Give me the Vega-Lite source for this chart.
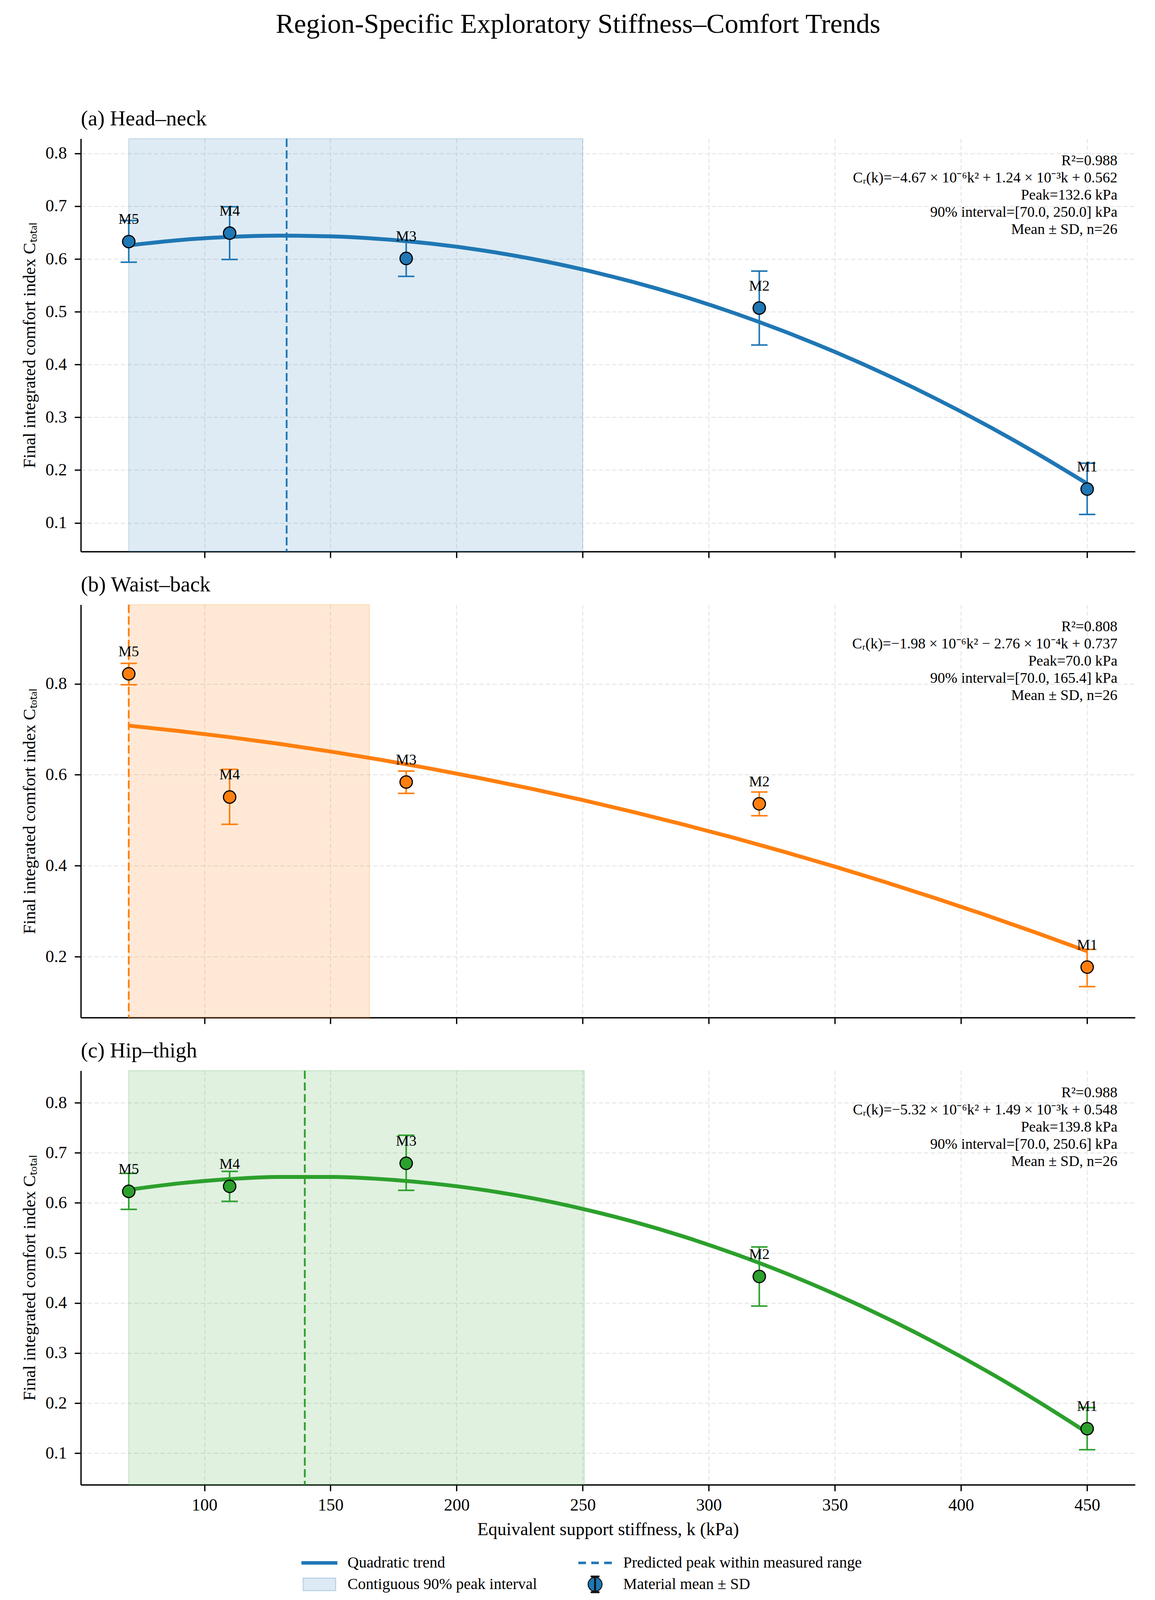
{
  "$schema": "https://vega.github.io/schema/vega-lite/v6.json",
  "background": "white",
  "padding": {"left": 54, "top": 27, "right": 5, "bottom": 5},
  "title": {
    "text": "Region-Specific Exploratory Stiffness–Comfort Trends",
    "fontSize": 70,
    "font": "Liberation Serif",
    "fontWeight": "normal",
    "anchor": "middle",
    "baseline": "top",
    "offset": 178,
    "color": "black"
  },
  "datasets": {
    "points": [
      {"region": "a", "mat": "M5", "k": 70, "mean": 0.633, "lo": 0.594, "hi": 0.673},
      {"region": "a", "mat": "M4", "k": 110, "mean": 0.649, "lo": 0.599, "hi": 0.699},
      {"region": "a", "mat": "M3", "k": 180, "mean": 0.601, "lo": 0.567, "hi": 0.634},
      {"region": "a", "mat": "M2", "k": 320, "mean": 0.507, "lo": 0.437, "hi": 0.577},
      {"region": "a", "mat": "M1", "k": 450, "mean": 0.164, "lo": 0.116, "hi": 0.213},
      {"region": "b", "mat": "M5", "k": 70, "mean": 0.822, "lo": 0.798, "hi": 0.845},
      {"region": "b", "mat": "M4", "k": 110, "mean": 0.551, "lo": 0.491, "hi": 0.612},
      {"region": "b", "mat": "M3", "k": 180, "mean": 0.584, "lo": 0.559, "hi": 0.608},
      {"region": "b", "mat": "M2", "k": 320, "mean": 0.536, "lo": 0.510, "hi": 0.562},
      {"region": "b", "mat": "M1", "k": 450, "mean": 0.177, "lo": 0.134, "hi": 0.216},
      {"region": "c", "mat": "M5", "k": 70, "mean": 0.623, "lo": 0.587, "hi": 0.659},
      {"region": "c", "mat": "M4", "k": 110, "mean": 0.633, "lo": 0.603, "hi": 0.663},
      {"region": "c", "mat": "M3", "k": 180, "mean": 0.679, "lo": 0.625, "hi": 0.735},
      {"region": "c", "mat": "M2", "k": 320, "mean": 0.453, "lo": 0.394, "hi": 0.512},
      {"region": "c", "mat": "M1", "k": 450, "mean": 0.149, "lo": 0.107, "hi": 0.191}
    ],
    "curves": [
      {"region": "a", "k": 70, "c": 0.6259}, {"region": "a", "k": 90, "c": 0.6358}, {"region": "a", "k": 110, "c": 0.6419},
      {"region": "a", "k": 130, "c": 0.6443}, {"region": "a", "k": 150, "c": 0.6429}, {"region": "a", "k": 170, "c": 0.6378},
      {"region": "a", "k": 190, "c": 0.6290}, {"region": "a", "k": 210, "c": 0.6165}, {"region": "a", "k": 230, "c": 0.6002},
      {"region": "a", "k": 250, "c": 0.5801}, {"region": "a", "k": 270, "c": 0.5564}, {"region": "a", "k": 290, "c": 0.5289},
      {"region": "a", "k": 310, "c": 0.4976}, {"region": "a", "k": 330, "c": 0.4626}, {"region": "a", "k": 350, "c": 0.4239},
      {"region": "a", "k": 370, "c": 0.3815}, {"region": "a", "k": 390, "c": 0.3353}, {"region": "a", "k": 410, "c": 0.2854},
      {"region": "a", "k": 430, "c": 0.2317}, {"region": "a", "k": 450, "c": 0.1743},
      {"region": "b", "k": 70, "c": 0.7080}, {"region": "b", "k": 90, "c": 0.6961}, {"region": "b", "k": 110, "c": 0.6827},
      {"region": "b", "k": 130, "c": 0.6677}, {"region": "b", "k": 150, "c": 0.6511}, {"region": "b", "k": 170, "c": 0.6329},
      {"region": "b", "k": 190, "c": 0.6131}, {"region": "b", "k": 210, "c": 0.5917}, {"region": "b", "k": 230, "c": 0.5688},
      {"region": "b", "k": 250, "c": 0.5443}, {"region": "b", "k": 270, "c": 0.5181}, {"region": "b", "k": 290, "c": 0.4904},
      {"region": "b", "k": 310, "c": 0.4612}, {"region": "b", "k": 330, "c": 0.4303}, {"region": "b", "k": 350, "c": 0.3979},
      {"region": "b", "k": 370, "c": 0.3638}, {"region": "b", "k": 390, "c": 0.3282}, {"region": "b", "k": 410, "c": 0.2910},
      {"region": "b", "k": 430, "c": 0.2522}, {"region": "b", "k": 450, "c": 0.2119},
      {"region": "c", "k": 70, "c": 0.6262}, {"region": "c", "k": 90, "c": 0.6390}, {"region": "c", "k": 110, "c": 0.6475},
      {"region": "c", "k": 130, "c": 0.6518}, {"region": "c", "k": 150, "c": 0.6518}, {"region": "c", "k": 170, "c": 0.6476},
      {"region": "c", "k": 190, "c": 0.6390}, {"region": "c", "k": 210, "c": 0.6263}, {"region": "c", "k": 230, "c": 0.6093},
      {"region": "c", "k": 250, "c": 0.5880}, {"region": "c", "k": 270, "c": 0.5625}, {"region": "c", "k": 290, "c": 0.5327},
      {"region": "c", "k": 310, "c": 0.4986}, {"region": "c", "k": 330, "c": 0.4604}, {"region": "c", "k": 350, "c": 0.4178},
      {"region": "c", "k": 370, "c": 0.3710}, {"region": "c", "k": 390, "c": 0.3199}, {"region": "c", "k": 410, "c": 0.2646},
      {"region": "c", "k": 430, "c": 0.2050}, {"region": "c", "k": 450, "c": 0.1412}
    ],
    "peaks": [
      {"region": "a", "lo": 70.0, "hi": 250.0, "peak": 132.6},
      {"region": "b", "lo": 70.0, "hi": 165.4, "peak": 70.0},
      {"region": "c", "lo": 70.0, "hi": 250.6, "peak": 139.8}
    ],
    "notes": [
      {"region": "a", "lines": ["R²=0.988", "Cᵣ(k)=−4.67 × 10⁻⁶k² + 1.24 × 10⁻³k + 0.562", "Peak=132.6 kPa", "90% interval=[70.0, 250.0] kPa", "Mean ± SD, n=26"]},
      {"region": "b", "lines": ["R²=0.808", "Cᵣ(k)=−1.98 × 10⁻⁶k² − 2.76 × 10⁻⁴k + 0.737", "Peak=70.0 kPa", "90% interval=[70.0, 165.4] kPa", "Mean ± SD, n=26"]},
      {"region": "c", "lines": ["R²=0.988", "Cᵣ(k)=−5.32 × 10⁻⁶k² + 1.49 × 10⁻³k + 0.548", "Peak=139.8 kPa", "90% interval=[70.0, 250.6] kPa", "Mean ± SD, n=26"]}
    ],
    "legend": [
      {"item": "Quadratic trend"},
      {"item": "Contiguous 90% peak interval"},
      {"item": "Predicted peak within measured range"},
      {"item": "Material mean ± SD"}
    ]
  },
  "spacing": 39,
  "resolve": {
    "scale": {"shape": "independent", "fill": "independent", "stroke": "independent"},
    "legend": {"shape": "independent", "fill": "independent", "stroke": "independent"}
  },
  "vconcat": [
    {
      "width": 2700,
      "height": 1057,
      "title": {"text": "(a) Head–neck", "anchor": "start", "frame": "group", "fontSize": 55, "fontWeight": "normal", "font": "Liberation Serif", "baseline": "top", "offset": 20, "color": "black"},
      "layer": [
        {
          "data": {"name": "peaks"},
          "transform": [{"filter": "datum.region == 'a'"}],
          "mark": {"type": "rect", "fill": "#1f77b4", "fillOpacity": 0.15, "stroke": "#1f77b4", "strokeOpacity": 0.25, "strokeWidth": 2},
          "encoding": {
            "x": {"field": "lo", "type": "quantitative", "scale": {"domain": [51, 469], "nice": false, "zero": false},
              "axis": {"values": [100, 150, 200, 250, 300, 350, 400, 450], "labels": false, "title": null, "grid": true}},
            "x2": {"field": "hi"}
          }
        },
        {
          "data": {"name": "points"},
          "transform": [{"filter": "datum.region == 'a'"}],
          "mark": {"type": "rule", "color": "#1f77b4", "strokeWidth": 4},
          "encoding": {
            "x": {"field": "k", "type": "quantitative"},
            "y": {"field": "lo", "type": "quantitative", "scale": {"domain": [0.0456, 0.828], "nice": false, "zero": false},
              "axis": {"values": [0.1, 0.2, 0.3, 0.4, 0.5, 0.6, 0.7, 0.8], "format": ".1f", "grid": true, "title": "Final integrated comfort index Cₜₒₜₐₗ"}},
            "y2": {"field": "hi"}
          }
        },
        {
          "data": {"name": "points"},
          "transform": [{"filter": "datum.region == 'a'"}],
          "mark": {"type": "tick", "orient": "horizontal", "color": "#1f77b4", "size": 42, "thickness": 4, "opacity": 1},
          "encoding": {"x": {"field": "k", "type": "quantitative"}, "y": {"field": "lo", "type": "quantitative"}}
        },
        {
          "data": {"name": "points"},
          "transform": [{"filter": "datum.region == 'a'"}],
          "mark": {"type": "tick", "orient": "horizontal", "color": "#1f77b4", "size": 42, "thickness": 4, "opacity": 1},
          "encoding": {"x": {"field": "k", "type": "quantitative"}, "y": {"field": "hi", "type": "quantitative"}}
        },
        {
          "data": {"name": "curves"},
          "transform": [{"filter": "datum.region == 'a'"}],
          "mark": {"type": "line", "color": "#1f77b4", "strokeWidth": 10, "interpolate": "monotone"},
          "encoding": {"x": {"field": "k", "type": "quantitative"}, "y": {"field": "c", "type": "quantitative"}, "order": {"field": "k"}}
        },
        {
          "data": {"name": "peaks"},
          "transform": [{"filter": "datum.region == 'a'"}],
          "mark": {"type": "rule", "color": "#1f77b4", "strokeWidth": 4.5, "strokeDash": [21, 9]},
          "encoding": {"x": {"field": "peak", "type": "quantitative"}}
        },
        {
          "data": {"name": "points"},
          "transform": [{"filter": "datum.region == 'a'"}],
          "mark": {"type": "circle", "fill": "#1f77b4", "stroke": "black", "strokeWidth": 3, "size": 1000, "opacity": 1},
          "encoding": {"x": {"field": "k", "type": "quantitative"}, "y": {"field": "mean", "type": "quantitative"}}
        },
        {
          "data": {"name": "points"},
          "transform": [{"filter": "datum.region == 'a'"}],
          "mark": {"type": "text", "align": "center", "baseline": "alphabetic", "dy": -45, "fontSize": 38, "font": "Liberation Serif", "color": "black"},
          "encoding": {"x": {"field": "k", "type": "quantitative"}, "y": {"field": "mean", "type": "quantitative"}, "text": {"field": "mat"}}
        },
        {
          "data": {"name": "notes"},
          "transform": [{"filter": "datum.region == 'a'"}],
          "mark": {"type": "text", "align": "right", "baseline": "top", "fontSize": 38, "lineHeight": 44, "font": "Liberation Serif", "color": "black"},
          "encoding": {"x": {"datum": 462}, "y": {"datum": 0.8}, "text": {"field": "lines"}}
        }
      ]
    },
    {
      "width": 2700,
      "height": 1057,
      "title": {"text": "(b) Waist–back", "anchor": "start", "frame": "group", "fontSize": 55, "fontWeight": "normal", "font": "Liberation Serif", "baseline": "top", "offset": 20, "color": "black"},
      "layer": [
        {
          "data": {"name": "peaks"},
          "transform": [{"filter": "datum.region == 'b'"}],
          "mark": {"type": "rect", "fill": "#ff7f0e", "fillOpacity": 0.17, "stroke": "#ff7f0e", "strokeOpacity": 0.25, "strokeWidth": 2},
          "encoding": {
            "x": {"field": "lo", "type": "quantitative", "scale": {"domain": [51, 469], "nice": false, "zero": false},
              "axis": {"values": [100, 150, 200, 250, 300, 350, 400, 450], "labels": false, "title": null, "grid": true}},
            "x2": {"field": "hi"}
          }
        },
        {
          "data": {"name": "points"},
          "transform": [{"filter": "datum.region == 'b'"}],
          "mark": {"type": "rule", "color": "#ff7f0e", "strokeWidth": 4},
          "encoding": {
            "x": {"field": "k", "type": "quantitative"},
            "y": {"field": "lo", "type": "quantitative", "scale": {"domain": [0.066, 0.974], "nice": false, "zero": false},
              "axis": {"values": [0.2, 0.4, 0.6, 0.8], "format": ".1f", "grid": true, "title": "Final integrated comfort index Cₜₒₜₐₗ"}},
            "y2": {"field": "hi"}
          }
        },
        {
          "data": {"name": "points"},
          "transform": [{"filter": "datum.region == 'b'"}],
          "mark": {"type": "tick", "orient": "horizontal", "color": "#ff7f0e", "size": 42, "thickness": 4, "opacity": 1},
          "encoding": {"x": {"field": "k", "type": "quantitative"}, "y": {"field": "lo", "type": "quantitative"}}
        },
        {
          "data": {"name": "points"},
          "transform": [{"filter": "datum.region == 'b'"}],
          "mark": {"type": "tick", "orient": "horizontal", "color": "#ff7f0e", "size": 42, "thickness": 4, "opacity": 1},
          "encoding": {"x": {"field": "k", "type": "quantitative"}, "y": {"field": "hi", "type": "quantitative"}}
        },
        {
          "data": {"name": "curves"},
          "transform": [{"filter": "datum.region == 'b'"}],
          "mark": {"type": "line", "color": "#ff7f0e", "strokeWidth": 10, "interpolate": "monotone"},
          "encoding": {"x": {"field": "k", "type": "quantitative"}, "y": {"field": "c", "type": "quantitative"}, "order": {"field": "k"}}
        },
        {
          "data": {"name": "peaks"},
          "transform": [{"filter": "datum.region == 'b'"}],
          "mark": {"type": "rule", "color": "#ff7f0e", "strokeWidth": 4.5, "strokeDash": [21, 9]},
          "encoding": {"x": {"field": "peak", "type": "quantitative"}}
        },
        {
          "data": {"name": "points"},
          "transform": [{"filter": "datum.region == 'b'"}],
          "mark": {"type": "circle", "fill": "#ff7f0e", "stroke": "black", "strokeWidth": 3, "size": 1000, "opacity": 1},
          "encoding": {"x": {"field": "k", "type": "quantitative"}, "y": {"field": "mean", "type": "quantitative"}}
        },
        {
          "data": {"name": "points"},
          "transform": [{"filter": "datum.region == 'b'"}],
          "mark": {"type": "text", "align": "center", "baseline": "alphabetic", "dy": -45, "fontSize": 38, "font": "Liberation Serif", "color": "black"},
          "encoding": {"x": {"field": "k", "type": "quantitative"}, "y": {"field": "mean", "type": "quantitative"}, "text": {"field": "mat"}}
        },
        {
          "data": {"name": "notes"},
          "transform": [{"filter": "datum.region == 'b'"}],
          "mark": {"type": "text", "align": "right", "baseline": "top", "fontSize": 38, "lineHeight": 44, "font": "Liberation Serif", "color": "black"},
          "encoding": {"x": {"datum": 462}, "y": {"datum": 0.941}, "text": {"field": "lines"}}
        }
      ]
    },
    {
      "width": 2700,
      "height": 1060,
      "title": {"text": "(c) Hip–thigh", "anchor": "start", "frame": "group", "fontSize": 55, "fontWeight": "normal", "font": "Liberation Serif", "baseline": "top", "offset": 20, "color": "black"},
      "layer": [
        {
          "data": {"name": "peaks"},
          "transform": [{"filter": "datum.region == 'c'"}],
          "mark": {"type": "rect", "fill": "#2ca02c", "fillOpacity": 0.15, "stroke": "#2ca02c", "strokeOpacity": 0.25, "strokeWidth": 2},
          "encoding": {
            "x": {"field": "lo", "type": "quantitative", "scale": {"domain": [51, 469], "nice": false, "zero": false},
              "axis": {"values": [100, 150, 200, 250, 300, 350, 400, 450], "grid": true, "title": "Equivalent support stiffness, k (kPa)"}},
            "x2": {"field": "hi"}
          }
        },
        {
          "data": {"name": "points"},
          "transform": [{"filter": "datum.region == 'c'"}],
          "mark": {"type": "rule", "color": "#2ca02c", "strokeWidth": 4},
          "encoding": {
            "x": {"field": "k", "type": "quantitative"},
            "y": {"field": "lo", "type": "quantitative", "scale": {"domain": [0.037, 0.864], "nice": false, "zero": false},
              "axis": {"values": [0.1, 0.2, 0.3, 0.4, 0.5, 0.6, 0.7, 0.8], "format": ".1f", "grid": true, "title": "Final integrated comfort index Cₜₒₜₐₗ"}},
            "y2": {"field": "hi"}
          }
        },
        {
          "data": {"name": "points"},
          "transform": [{"filter": "datum.region == 'c'"}],
          "mark": {"type": "tick", "orient": "horizontal", "color": "#2ca02c", "size": 42, "thickness": 4, "opacity": 1},
          "encoding": {"x": {"field": "k", "type": "quantitative"}, "y": {"field": "lo", "type": "quantitative"}}
        },
        {
          "data": {"name": "points"},
          "transform": [{"filter": "datum.region == 'c'"}],
          "mark": {"type": "tick", "orient": "horizontal", "color": "#2ca02c", "size": 42, "thickness": 4, "opacity": 1},
          "encoding": {"x": {"field": "k", "type": "quantitative"}, "y": {"field": "hi", "type": "quantitative"}}
        },
        {
          "data": {"name": "curves"},
          "transform": [{"filter": "datum.region == 'c'"}],
          "mark": {"type": "line", "color": "#2ca02c", "strokeWidth": 10, "interpolate": "monotone"},
          "encoding": {"x": {"field": "k", "type": "quantitative"}, "y": {"field": "c", "type": "quantitative"}, "order": {"field": "k"}}
        },
        {
          "data": {"name": "peaks"},
          "transform": [{"filter": "datum.region == 'c'"}],
          "mark": {"type": "rule", "color": "#2ca02c", "strokeWidth": 4.5, "strokeDash": [21, 9]},
          "encoding": {"x": {"field": "peak", "type": "quantitative"}}
        },
        {
          "data": {"name": "points"},
          "transform": [{"filter": "datum.region == 'c'"}],
          "mark": {"type": "circle", "fill": "#2ca02c", "stroke": "black", "strokeWidth": 3, "size": 1000, "opacity": 1},
          "encoding": {"x": {"field": "k", "type": "quantitative"}, "y": {"field": "mean", "type": "quantitative"}}
        },
        {
          "data": {"name": "points"},
          "transform": [{"filter": "datum.region == 'c'"}],
          "mark": {"type": "text", "align": "center", "baseline": "alphabetic", "dy": -45, "fontSize": 38, "font": "Liberation Serif", "color": "black"},
          "encoding": {"x": {"field": "k", "type": "quantitative"}, "y": {"field": "mean", "type": "quantitative"}, "text": {"field": "mat"}}
        },
        {
          "data": {"name": "notes"},
          "transform": [{"filter": "datum.region == 'c'"}],
          "mark": {"type": "text", "align": "right", "baseline": "top", "fontSize": 38, "lineHeight": 44, "font": "Liberation Serif", "color": "black"},
          "encoding": {"x": {"datum": 462}, "y": {"datum": 0.834}, "text": {"field": "lines"}}
        },
        {
          "data": {"name": "legend"},
          "transform": [{"filter": "false"}],
          "mark": {"type": "point", "filled": true, "opacity": 1},
          "encoding": {
            "shape": {
              "field": "item", "type": "nominal",
              "scale": {
                "domain": ["Quadratic trend", "Contiguous 90% peak interval", "Predicted peak within measured range", "Material mean ± SD"],
                "range": [
                  "M-2.0,-0.15H2.0V0.15H-2.0Z",
                  "M-1.86,-0.72H1.86V0.72H-1.86Z",
                  "M-1.86,-0.09H-1.1V0.09H-1.86Z M-0.38,-0.09H0.38V0.09H-0.38Z M1.1,-0.09H1.86V0.09H1.1Z",
                  "M-0.45,-0.95H0.45V-0.85H-0.45Z M-0.45,0.85H0.45V0.95H-0.45Z M-0.05,-0.9H0.05V0.9H-0.05Z M-0.8,0A0.8,0.8 0 1,0 0.8,0A0.8,0.8 0 1,0 -0.8,0Z"
                ]
              },
              "legend": {
                "orient": "none", "legendX": 587, "legendY": 1236, "columns": 2, "columnPadding": 101, "rowPadding": 8,
                "symbolSize": 2000, "symbolStrokeWidth": 2.5, "labelFontSize": 40, "labelFont": "Liberation Serif",
                "labelOffset": 48, "labelLimit": 0, "title": null, "labelColor": "black", "padding": 0
              }
            },
            "fill": {
              "field": "item", "type": "nominal",
              "scale": {
                "domain": ["Quadratic trend", "Contiguous 90% peak interval", "Predicted peak within measured range", "Material mean ± SD"],
                "range": ["#1f77b4", "#dde9f4", "#1f77b4", "#1f77b4"]
              },
              "legend": {
                "orient": "none", "legendX": 587, "legendY": 1236, "columns": 2, "columnPadding": 101, "rowPadding": 8,
                "symbolSize": 2000, "symbolStrokeWidth": 2.5, "labelFontSize": 40, "labelFont": "Liberation Serif",
                "labelOffset": 48, "labelLimit": 0, "title": null, "labelColor": "black", "padding": 0
              }
            },
            "stroke": {
              "field": "item", "type": "nominal",
              "scale": {
                "domain": ["Quadratic trend", "Contiguous 90% peak interval", "Predicted peak within measured range", "Material mean ± SD"],
                "range": ["#1f77b4", "#b4d0e6", "#1f77b4", "#111111"]
              },
              "legend": {
                "orient": "none", "legendX": 587, "legendY": 1236, "columns": 2, "columnPadding": 101, "rowPadding": 8,
                "symbolSize": 2000, "symbolStrokeWidth": 2.5, "labelFontSize": 40, "labelFont": "Liberation Serif",
                "labelOffset": 48, "labelLimit": 0, "title": null, "labelColor": "black", "padding": 0
              }
            }
          }
        }
      ]
    }
  ],
  "config": {
    "font": "Liberation Serif",
    "view": {"stroke": null},
    "axis": {
      "labelFont": "Liberation Serif",
      "labelFontSize": 44,
      "labelColor": "black",
      "titleFont": "Liberation Serif",
      "titleFontSize": 44,
      "titleFontWeight": "normal",
      "titleColor": "black",
      "domainColor": "black",
      "domainWidth": 3.3,
      "tickColor": "black",
      "tickWidth": 3.3,
      "tickSize": 16,
      "gridColor": "#e0e0e0",
      "gridDash": [11, 6],
      "gridWidth": 2
    },
    "axisY": {"labelPadding": 20, "titlePadding": 18},
    "axisX": {"labelPadding": 14, "titlePadding": 18, "titleFontSize": 46}
  }
}
